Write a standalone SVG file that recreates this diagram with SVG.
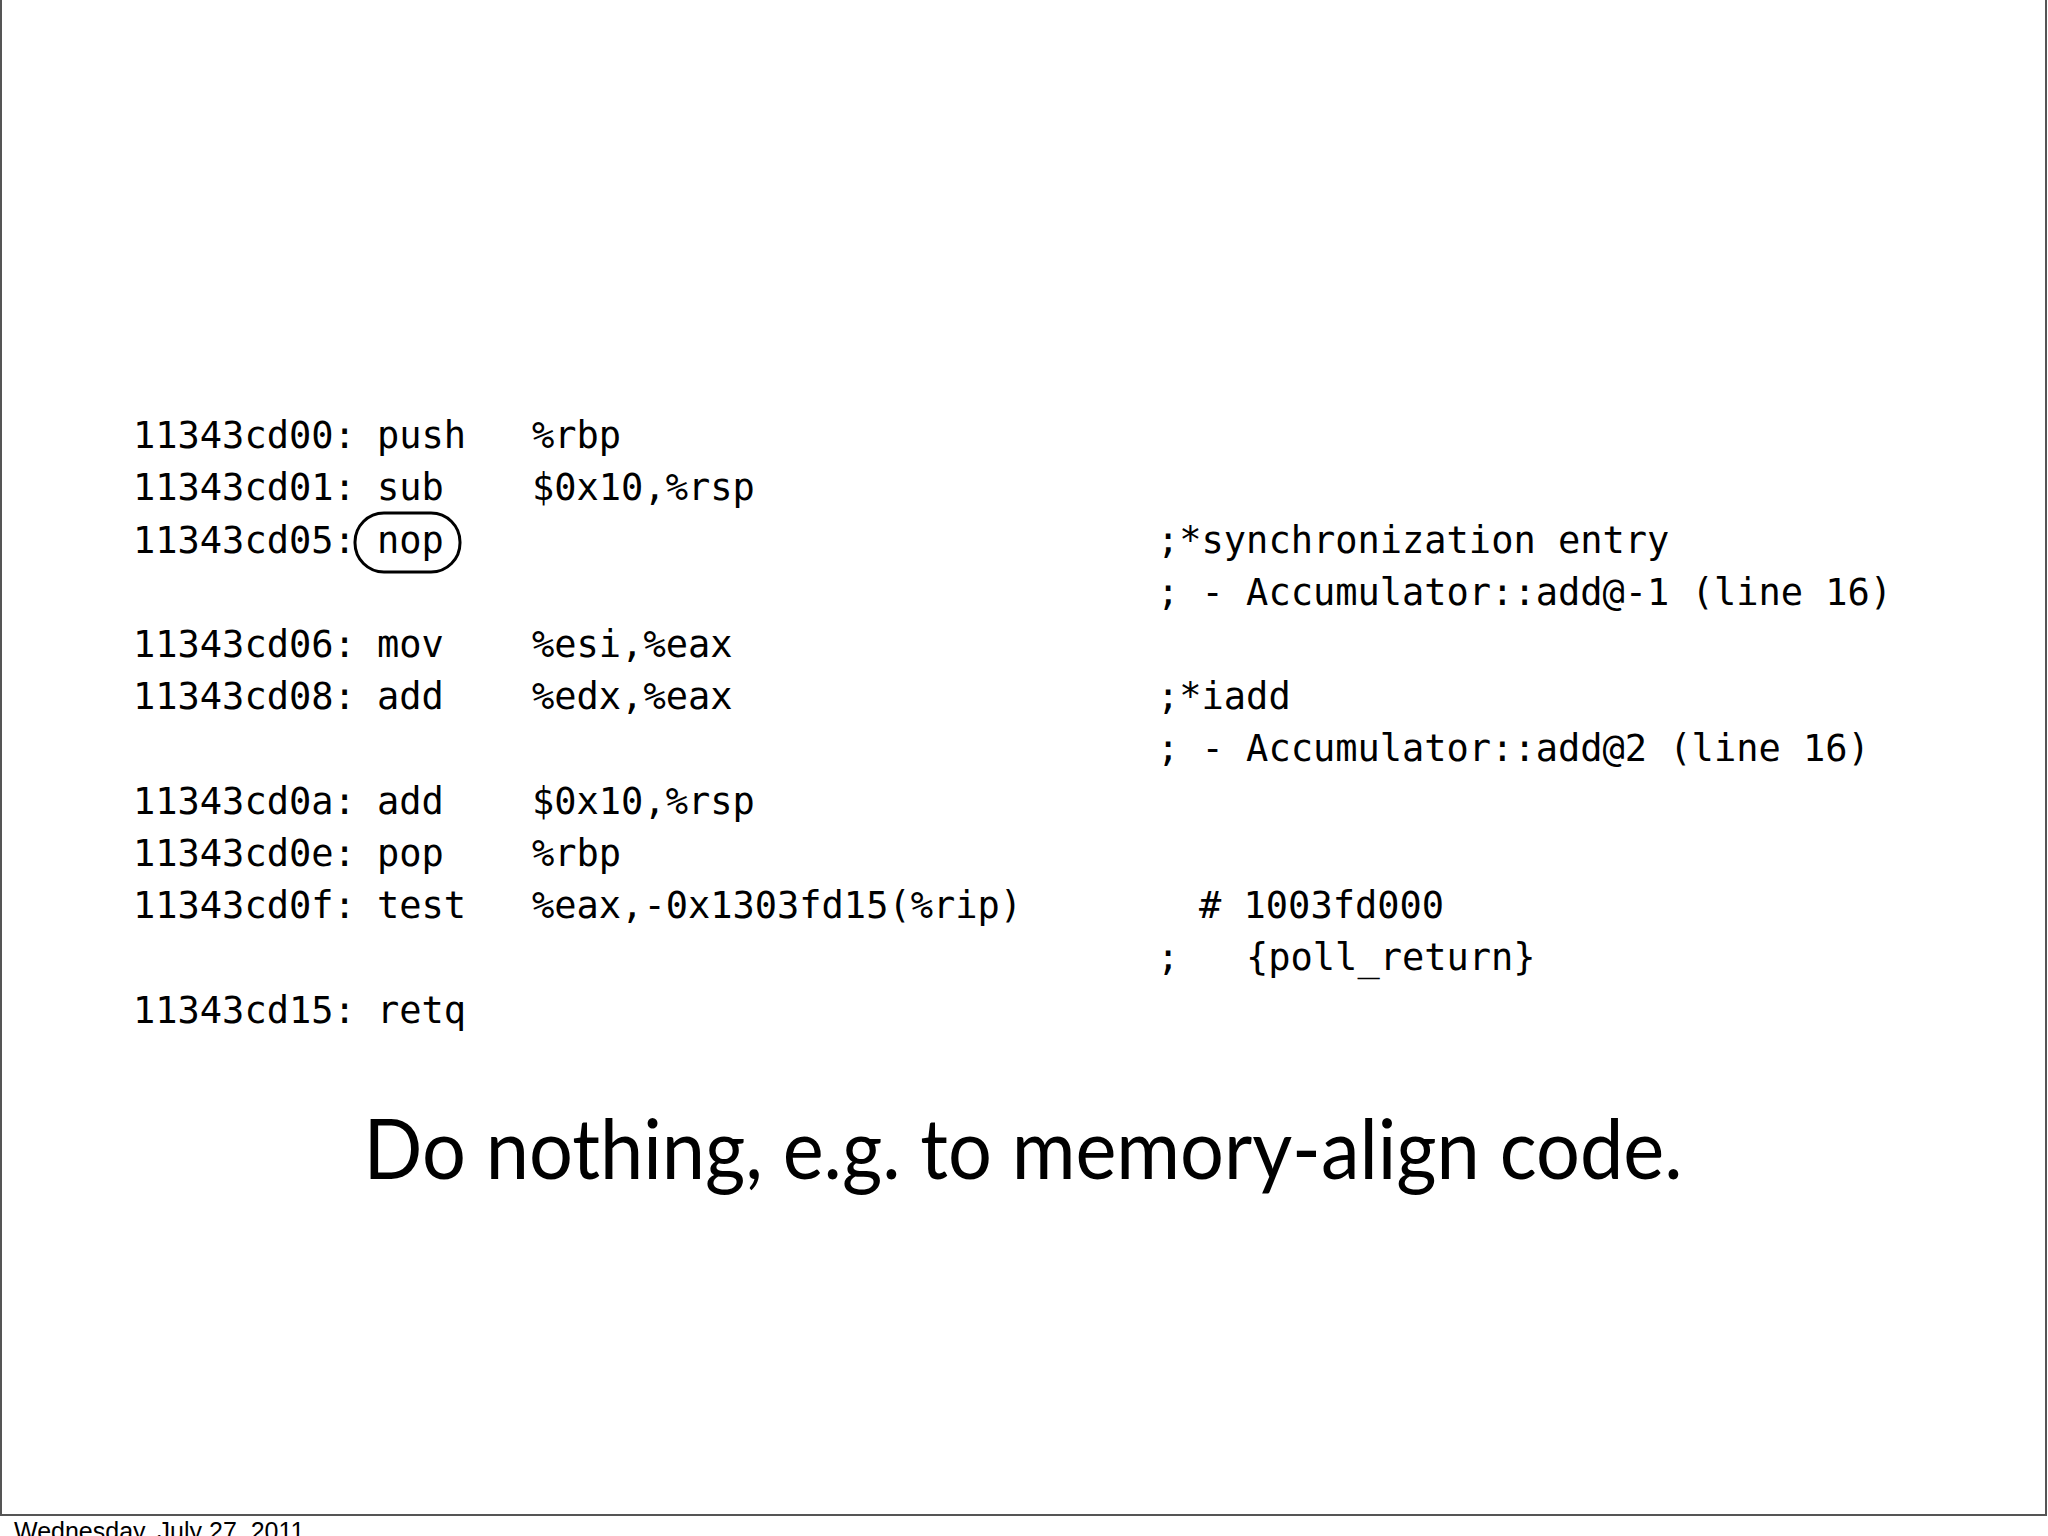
<svg xmlns="http://www.w3.org/2000/svg" width="2048" height="1536" viewBox="0 0 2048 1536">
<style>
.c{font-family:"DejaVu Sans Mono",monospace;font-size:37px;fill:#000}
</style>
<rect width="2048" height="1536" fill="#fff"/>
<rect x="1" y="-2" width="2045" height="1517" fill="none" stroke="#555" stroke-width="2"/>
<g id="addresses" class="c">
<text x="133" y="448">11343cd00:</text>
<text x="133" y="500">11343cd01:</text>
<text x="133" y="553">11343cd05:</text>
<text x="133" y="657">11343cd06:</text>
<text x="133" y="709">11343cd08:</text>
<text x="133" y="814">11343cd0a:</text>
<text x="133" y="866">11343cd0e:</text>
<text x="133" y="918">11343cd0f:</text>
<text x="133" y="1023">11343cd15:</text>
</g>
<g id="ops" class="c">
<text x="377" y="448">push</text>
<text x="377" y="500">sub</text>
<text x="377" y="553">nop</text>
<text x="377" y="657">mov</text>
<text x="377" y="709">add</text>
<text x="377" y="814">add</text>
<text x="377" y="866">pop</text>
<text x="377" y="918">test</text>
<text x="377" y="1023">retq</text>
</g>
<g id="args" class="c">
<text x="532" y="448">%rbp</text>
<text x="532" y="500">$0x10,%rsp</text>
<text x="532" y="657">%esi,%eax</text>
<text x="532" y="709">%edx,%eax</text>
<text x="532" y="814">$0x10,%rsp</text>
<text x="532" y="866">%rbp</text>
<text x="532" y="918">%eax,-0x1303fd15(%rip)</text>
</g>
<g id="comments" class="c">
<text x="1157" y="553">;*synchronization entry</text>
<text x="1157" y="605">; - Accumulator::add@-1 (line 16)</text>
<text x="1157" y="709">;*iadd</text>
<text x="1157" y="761">; - Accumulator::add@2 (line 16)</text>
<text x="1199" y="918"># 1003fd000</text>
<text x="1157" y="970">;</text>
<text x="1246" y="970">{poll_return}</text>
</g>
<g id="nop-mark"><rect x="355" y="513" width="105" height="59" rx="29" fill="none" stroke="#000" stroke-width="3"/></g>
<g id="caption"><text x="1023" y="1179" text-anchor="middle" font-family="Lato, sans-serif" font-size="84" textLength="1319" lengthAdjust="spacingAndGlyphs">Do nothing, e.g. to memory-align code.</text></g>
<g id="footer"><text x="14" y="1540" font-family="Liberation Sans, sans-serif" font-size="25">Wednesday, July 27, 2011</text></g>
</svg>
